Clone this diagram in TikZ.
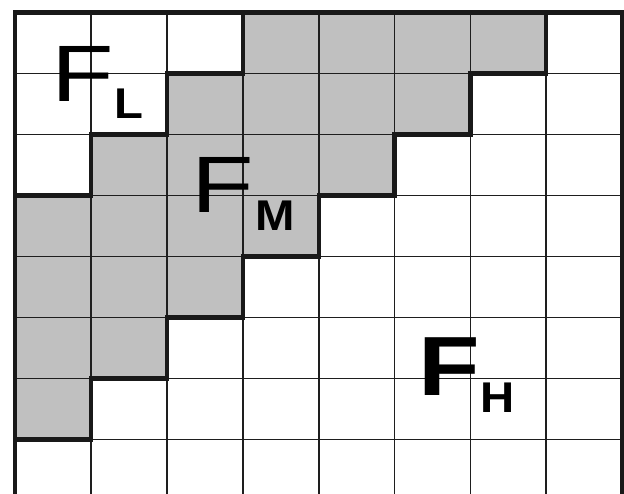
\documentclass[tikz,border=0pt]{standalone}
\usepackage{fontspec}
\setmainfont{Liberation Sans}
\definecolor{cellgray}{RGB}{192,192,192}
\definecolor{gridline}{RGB}{30,30,30}
\begin{document}
\begin{tikzpicture}[x=1pt,y=-1pt,
  thin grid/.style={draw=gridline,line width=1.8pt},
  thick edge/.style={draw=black!90,line width=4.2pt,line cap=rect,line join=miter},
  bigF/.style={inner sep=0pt,font=\fontsize{80}{80}\selectfont},
  subl/.style={inner sep=0pt,font=\fontsize{43}{43}\selectfont\bfseries}]
\useasboundingbox (0,0) rectangle (624,493);
\pgfmathsetmacro{\cw}{75.9}
\pgfmathsetmacro{\rh}{61}
\def\X#1{15+#1*\cw}
\def\Y#1{12.5+#1*\rh}
% shaded cells: row r, first col a, last col b
\foreach \r/\a/\b in {0/3/6,1/2/5,2/1/4,3/0/3,4/0/2,5/0/1,6/0/0}{
  \fill[cellgray] ({\X{\a}},{\Y{\r}}) rectangle ({\X{(\b+1)}},{\Y{(\r+1)}});
}
% thin grid
\foreach \i in {1,...,7}{
  \draw[thin grid] ({\X{\i}},{\Y{0}}) -- ({\X{\i}},{\Y{8}});
  \draw[thin grid] ({\X{0}},{\Y{\i}}) -- ({\X{8}},{\Y{\i}});
}
% upper boundary (F_L / F_M)
\draw[thick edge] ({\X{0}},{\Y{3}}) -- ({\X{1}},{\Y{3}}) -- ({\X{1}},{\Y{2}}) -- ({\X{2}},{\Y{2}})
  -- ({\X{2}},{\Y{1}}) -- ({\X{3}},{\Y{1}}) -- ({\X{3}},{\Y{0}});
% lower boundary (F_M / F_H)
\draw[thick edge] ({\X{7}},{\Y{0}}) -- ({\X{7}},{\Y{1}}) -- ({\X{6}},{\Y{1}}) -- ({\X{6}},{\Y{2}})
  -- ({\X{5}},{\Y{2}}) -- ({\X{5}},{\Y{3}}) -- ({\X{4}},{\Y{3}}) -- ({\X{4}},{\Y{4}})
  -- ({\X{3}},{\Y{4}}) -- ({\X{3}},{\Y{5}}) -- ({\X{2}},{\Y{5}}) -- ({\X{2}},{\Y{6}})
  -- ({\X{1}},{\Y{6}}) -- ({\X{1}},{\Y{7}}) -- ({\X{0}},{\Y{7}});
% outer border
\draw[thick edge] ({\X{0}},{\Y{8}}) -- ({\X{0}},{\Y{0}}) -- ({\X{8}},{\Y{0}}) -- ({\X{8}},{\Y{8}});
% labels
\node[bigF] (FL) at (83,73.5) {\scalebox{1.28}[1]{F}};
\node[subl] (L) at (129,103.5) {\scalebox{1.1}[1]{L}};
\node[bigF] (FM) at (223,185) {\scalebox{1.28}[1]{F}};
\node[subl] (M) at (275,216) {\scalebox{1.1}[1]{M}};
\node[bigF,font=\fontsize{84}{84}\selectfont\bfseries] (FH) at (449,367) {\scalebox{1.2}[1]{F}};
\node[subl] (H) at (498,398) {\scalebox{1.1}[1]{H}};
\end{tikzpicture}
\end{document}
